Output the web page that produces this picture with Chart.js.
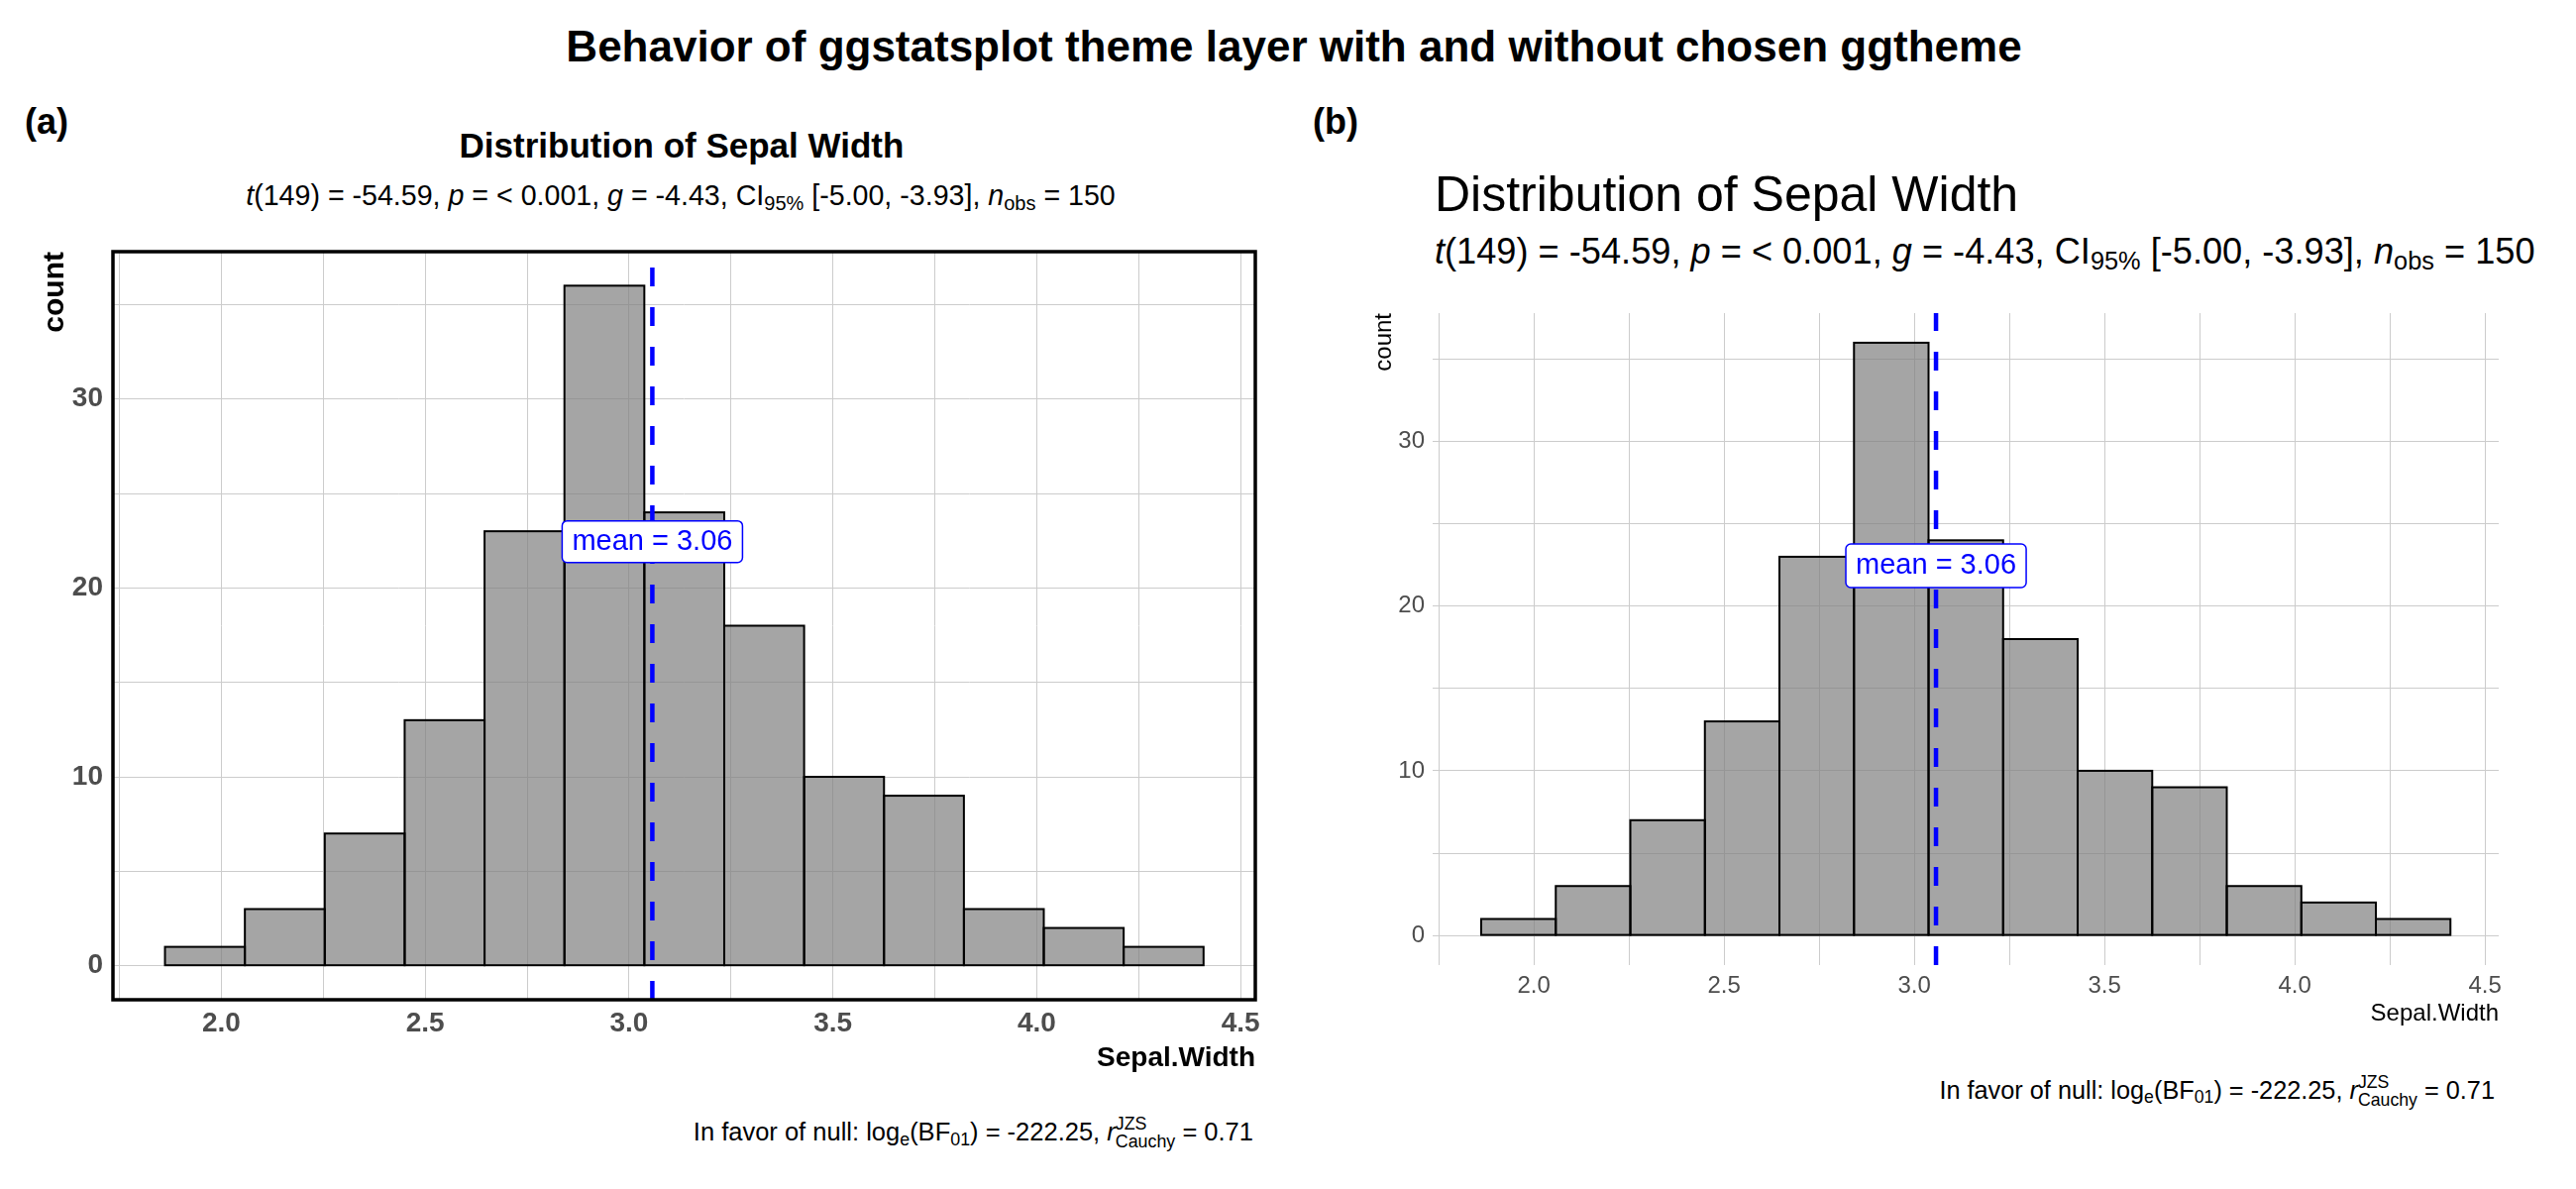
<!DOCTYPE html>
<html>
<head>
<meta charset="utf-8">
<title>Behavior of ggstatsplot theme layer with and without chosen ggtheme</title>
<script src="https://cdn.jsdelivr.net/npm/chart.js@4.4.1/dist/chart.umd.min.js"></script>
<style>
  html, body { margin: 0; padding: 0; background: #fff; }
  body { width: 2600px; height: 1200px; position: relative; overflow: hidden;
         font-family: "Liberation Sans", Arial, sans-serif; color: #000; }
  .txt { position: absolute; line-height: 1; white-space: nowrap; }
  .sub { font-size: 0.7em; vertical-align: -0.25em; line-height: 0; }
  .stack { display: inline-flex; flex-direction: column; font-size: 0.7em; line-height: 1; vertical-align: 0.62em; }
  canvas { position: absolute; }
</style>
</head>
<body>

<div class="txt" style="font-size:44px;font-weight:bold;left:1306px;top:25px;transform:translateX(-50%)">Behavior of ggstatsplot theme layer with and without chosen ggtheme</div>

<!-- panel (a) -->
<div class="txt" style="font-size:36px;font-weight:bold;left:25px;top:105px">(a)</div>
<div class="txt" style="font-size:35px;font-weight:bold;left:688px;top:129px;transform:translateX(-50%)">Distribution of Sepal Width</div>
<div class="txt" style="font-size:28.6px;left:687px;top:183px;transform:translateX(-50%)"><i>t</i>(149) = -54.59, <i>p</i> = &lt; 0.001, <i>g</i> = -4.43, CI<span class="sub">95%</span> [-5.00, -3.93], <i>n</i><span class="sub">obs</span> = 150</div>
<canvas id="chartA" width="1290" height="845" style="left:0px;top:244px"></canvas>
<div class="txt" style="font-size:25.5px;right:1335px;top:1126px">In favor of null: log<span class="sub">e</span>(BF<span class="sub">01</span>) = -222.25, <i>r</i><span class="stack"><span>JZS</span><span>Cauchy</span></span> = 0.71</div>

<!-- panel (b) -->
<div class="txt" style="font-size:36px;font-weight:bold;left:1325px;top:105px">(b)</div>
<div class="txt" style="font-size:50px;left:1448px;top:171px">Distribution of Sepal Width</div>
<div class="txt" style="font-size:36.2px;left:1448px;top:236px"><i>t</i>(149) = -54.59, <i>p</i> = &lt; 0.001, <i>g</i> = -4.43, CI<span class="sub">95%</span> [-5.00, -3.93], <i>n</i><span class="sub">obs</span> = 150</div>
<canvas id="chartB" width="1245" height="742" style="left:1300px;top:300px"></canvas>
<div class="txt" style="font-size:25.3px;right:82px;top:1084px">In favor of null: log<span class="sub">e</span>(BF<span class="sub">01</span>) = -222.25, <i>r</i><span class="stack"><span>JZS</span><span>Cauchy</span></span> = 0.71</div>

<script>
// histogram of iris Sepal.Width, binwidth ~0.196
const binEdges = [1.8616, 2.0576, 2.2536, 2.4495, 2.6455, 2.8414, 3.0374, 3.2334, 3.4293, 3.6253, 3.8212, 4.0172, 4.2131, 4.4091];
const binCounts = [1, 3, 7, 13, 23, 36, 24, 18, 10, 9, 3, 2, 1];
const meanValue = 3.057;
const meanLabel = "mean = 3.06";
const meanLabelY = 22.45;

const xMajor = [2.0, 2.5, 3.0, 3.5, 4.0, 4.5];
const xMinor = [1.75, 2.25, 2.75, 3.25, 3.75, 4.25];
const yMajor = [0, 10, 20, 30];
const yMinor = [5, 15, 25, 35];
const xRange = [1.734, 4.536];
const yRange = [-1.8, 37.8];

const FONT = '"Liberation Sans", Arial, sans-serif';
const GRID = "#cccccc";

// outlines, dashed mean line, label and optional panel border
const histExtras = {
  id: "histExtras",
  afterDatasetsDraw(chart, args, opts) {
    const { ctx, chartArea } = chart;
    const xs = chart.scales.x, ys = chart.scales.y;
    const meta = chart.getDatasetMeta(0);

    ctx.save();
    ctx.strokeStyle = "#000";
    ctx.lineWidth = 2;
    meta.data.forEach(bar => {
      const p = bar.getProps(["x", "y", "base", "width"], true);
      ctx.strokeRect(p.x - p.width / 2, p.y, p.width, p.base - p.y);
    });

    const px = xs.getPixelForValue(meanValue);
    ctx.strokeStyle = "#0000ff";
    ctx.lineWidth = 4.5;
    ctx.setLineDash([19, 21]);
    ctx.beginPath();
    ctx.moveTo(px, chartArea.bottom);
    ctx.lineTo(px, chartArea.top);
    ctx.stroke();
    ctx.setLineDash([]);

    ctx.font = "29px " + FONT;
    const w = ctx.measureText(meanLabel).width + 20;
    const h = opts.boxHeight;
    const py = ys.getPixelForValue(meanLabelY);
    ctx.beginPath();
    ctx.roundRect(px - w / 2, py - h / 2, w, h, 5);
    ctx.fillStyle = "#fff";
    ctx.fill();
    ctx.lineWidth = 1.5;
    ctx.strokeStyle = "#0000ff";
    ctx.stroke();
    ctx.fillStyle = "#0000ff";
    ctx.textAlign = "center";
    ctx.textBaseline = "middle";
    ctx.fillText(meanLabel, px, py);
    ctx.restore();
  },
  afterDraw(chart, args, opts) {
    if (!opts.border) return;
    const { ctx, chartArea: a } = chart;
    ctx.save();
    ctx.strokeStyle = "#000";
    ctx.lineWidth = opts.border;
    ctx.strokeRect(a.left, a.top, a.right - a.left, a.bottom - a.top);
    ctx.restore();
  }
};

function makeChart(id, s) {
  const tickFont = { family: FONT, size: s.tickSize, weight: s.weight };
  return new Chart(document.getElementById(id), {
    type: "bar",
    data: {
      datasets: [{
        label: "count",
        data: binCounts.map((c, i) => ({ x: (binEdges[i] + binEdges[i + 1]) / 2, y: c })),
        backgroundColor: "rgba(127,127,127,0.7)",
        borderWidth: 0,
        categoryPercentage: 1,
        barPercentage: 1,
        grouped: false
      }]
    },
    options: {
      responsive: false,
      animation: false,
      devicePixelRatio: 1,
      layout: { padding: s.padding },
      plugins: {
        legend: { display: false },
        tooltip: { enabled: false },
        histExtras: { border: s.border, boxHeight: s.boxHeight }
      },
      scales: {
        x: {
          type: "linear",
          min: xRange[0],
          max: xRange[1],
          offset: false,
          afterFit: sc => {
            sc.height = s.xAxisHeight;
            sc.paddingLeft = 0;
            sc.paddingRight = 0;
          },
          afterBuildTicks: sc => {
            sc.ticks = [...xMinor, ...xMajor].sort((a, b) => a - b).map(v => ({ value: v }));
          },
          grid: { color: GRID, lineWidth: 1, drawTicks: false, offset: false },
          border: { display: false },
          ticks: {
            padding: s.xTickPad,
            color: "#4d4d4d",
            font: tickFont,
            maxRotation: 0,
            autoSkip: false,
            callback: v => (xMajor.includes(v) ? v.toFixed(1) : "")
          },
          title: {
            display: true,
            text: "Sepal.Width",
            align: "end",
            color: "#000",
            font: { family: FONT, size: s.xTitleSize, weight: s.weight },
            padding: { top: 0, bottom: s.xTitlePad }
          }
        },
        y: {
          type: "linear",
          min: yRange[0],
          max: yRange[1],
          afterFit: sc => {
            sc.width = s.yAxisWidth;
            sc.paddingTop = 0;
            sc.paddingBottom = 0;
          },
          afterBuildTicks: sc => {
            sc.ticks = [...yMajor, ...yMinor].sort((a, b) => a - b).map(v => ({ value: v }));
          },
          grid: { color: GRID, lineWidth: 1, drawTicks: false },
          border: { display: false },
          ticks: {
            padding: s.yTickPad,
            color: "#4d4d4d",
            font: tickFont,
            autoSkip: false,
            callback: v => (yMajor.includes(v) ? String(v) : "")
          },
          title: {
            display: true,
            text: "count",
            align: "end",
            color: "#000",
            font: { family: FONT, size: s.yTitleSize, weight: s.weight },
            padding: { top: s.yTitlePad, bottom: 0 }
          }
        }
      }
    },
    plugins: [histExtras]
  });
}

// (a) ggstatsplot theme
makeChart("chartA", {
  weight: "bold", tickSize: 28, xTitleSize: 28, yTitleSize: 30,
  padding: { left: 0, top: 10, right: 23, bottom: 0 },
  xAxisHeight: 80, yAxisWidth: 114,
  xTickPad: 7, yTickPad: 10, xTitlePad: 4, yTitlePad: 38,
  border: 3.5, boxHeight: 42
});

// (b) with chosen ggtheme
makeChart("chartB", {
  weight: "normal", tickSize: 24, xTitleSize: 24, yTitleSize: 24,
  padding: { left: 0, top: 16, right: 23, bottom: 0 },
  xAxisHeight: 68, yAxisWidth: 146,
  xTickPad: 7, yTickPad: 8, xTitlePad: 4, yTitlePad: 83,
  border: 0, boxHeight: 44
});
</script>
</body>
</html>
